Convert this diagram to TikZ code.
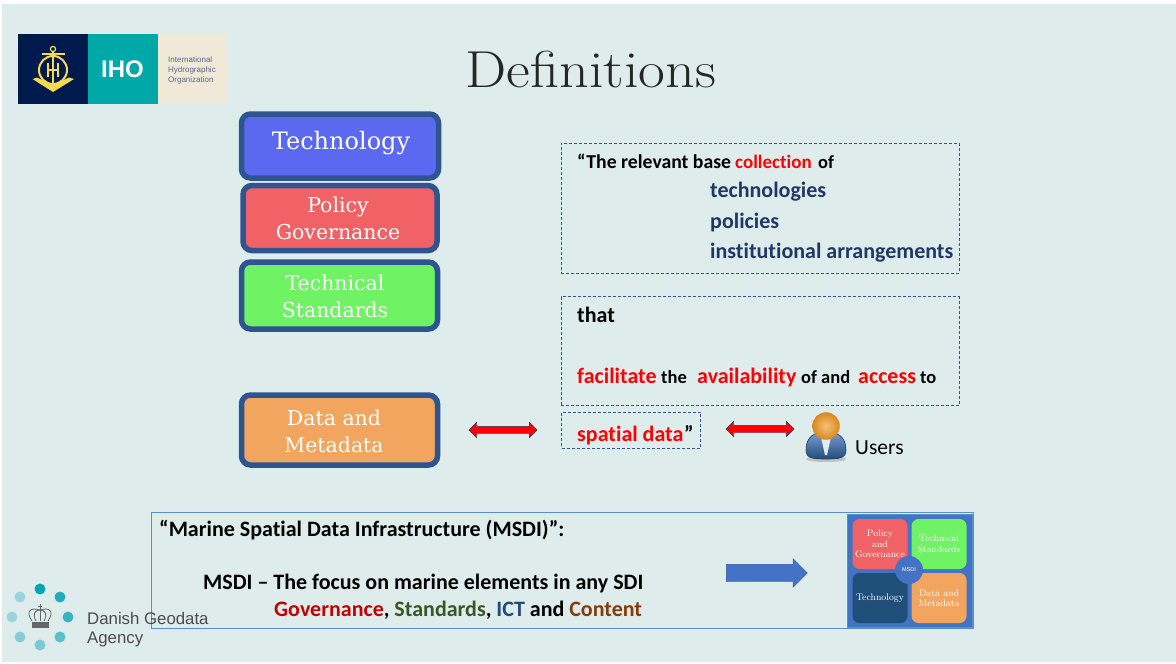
\documentclass[tikz,border=0pt]{standalone}
\usepackage{fontspec}
\setmainfont[Ligatures={TeX,NoCommon}]{Carlito}
\newfontfamily\serifa{DejaVu Serif}
\newfontfamily\serifb{Latin Modern Roman}
\newfontfamily\serift[FakeStretch=1.12]{Latin Modern Roman}
\newfontfamily\helv{Liberation Sans}
\usetikzlibrary{arrows.meta,shapes.arrows,calc}
\definecolor{bg}{HTML}{DFECEC}
\definecolor{bordb}{HTML}{2F5590}
\definecolor{tech}{HTML}{5B69F0}
\definecolor{redb}{HTML}{F06265}
\definecolor{greenb}{HTML}{70F265}
\definecolor{orangeb}{HTML}{F2A55F}
\definecolor{navyt}{HTML}{1F3864}
\definecolor{dashc}{HTML}{2F5597}
\definecolor{frame}{HTML}{5B8FC9}
\definecolor{bluef}{HTML}{4472C4}
\definecolor{dkblue}{HTML}{1F4E79}
\definecolor{redt}{HTML}{FF0000}
\definecolor{govt}{HTML}{C00000}
\definecolor{stdt}{HTML}{385723}
\definecolor{ictt}{HTML}{1F4E79}
\definecolor{cont}{HTML}{843C0C}
\definecolor{ihon}{HTML}{001A4E}
\definecolor{ihot}{HTML}{00A9A8}
\definecolor{ihoc}{HTML}{F0E9D8}
\definecolor{ihoy}{HTML}{F5D94E}
\definecolor{dotc}{HTML}{00A3B4}
\definecolor{ballin}{HTML}{F5C27A}
\definecolor{ballout}{HTML}{D98A1E}
\tikzset{
  bigbox/.style={draw=bordb,line width=5.5pt,rounded corners=9pt,inner sep=0pt},
  boxlab/.style={text=white,align=center,inner sep=0pt,font=\serifa\fontsize{20.5}{27}\selectfont},
  dashbox/.style={draw=dashc,line width=0.7pt,densely dashed,inner sep=0pt},
  txt/.style={anchor=base west,inner sep=0pt,font=\bfseries\fontsize{18.5}{22}\selectfont},
  txtl/.style={txt,font=\bfseries\fontsize{22}{26}\selectfont},
  txtb/.style={txtl,text=navyt},
  miniq/.style={rounded corners=7pt,text=white,align=center,inner sep=0pt,font=\serifb\fontsize{9.5}{10.5}\selectfont},
  dbl/.style={draw=navyt,line width=0.4pt,fill=redt,double arrow,double arrow head extend=4pt,double arrow tip angle=90,minimum height=68pt,inner sep=3.5pt},
  dotm/.style={circle,fill=dotc,inner sep=0pt,minimum size=11pt},
  frameb/.style={draw=frame,line width=0.9pt,inner sep=0pt}
}
\begin{document}
\begin{tikzpicture}[x=1pt,y=-1pt]
\useasboundingbox (0,0) rectangle (1176,664);
\fill[white] (0,0) rectangle (1176,664);
\fill[bg] (2,4) rectangle (1176,662);
% IHO logo
\fill[ihon] (18,34) rectangle (88,104);
\fill[ihot] (88,34) rectangle (157.5,104);
\fill[ihoc] (157.5,34) rectangle (227,104);
\node[anchor=center,inner sep=0pt,text=white,font=\helv\bfseries\fontsize{24}{26}\selectfont] (ihotxt) at (122.5,69) {IHO};
\node[anchor=west,inner sep=0pt,align=left,text=navyt!75,font=\helv\fontsize{8}{10}\selectfont] (ihoname) at (168,70) {International\\Hydrographic\\Organization};
\begin{scope}[ihoy]
 \draw[line width=2pt] (53,70) circle (14);
 \draw[line width=1.5pt] (53,52) -- (53,88);
 \draw[line width=2pt] (42,53.5) -- (65,53.5);
 \draw[line width=1.2pt] (53,49) circle (2.6);
 \draw[line width=1.5pt] (48,63) -- (48,77) (58,63) -- (58,77) (48,70) -- (58,70);
 \fill (32.5,79) -- (37,77.5) -- (53,85) -- (69,77.5) -- (74,79) -- (53,92) -- cycle;
\end{scope}
% title
\node[anchor=base,inner sep=0pt,text=black!85,font=\serift\fontsize{52}{56}\selectfont] (title) at (591,87) {Definitions};
% left boxes
\node[bigbox,fill=tech,minimum width=197pt,minimum height=64pt] (b1) at (340,146) {};
\node[boxlab,font=\serifa\fontsize{24}{27}\selectfont] (l1) at (341,143) {Technology};
\node[bigbox,fill=redb,minimum width=194pt,minimum height=65pt] (b2) at (340,218) {};
\node[boxlab] (l2) at (338,218) {Policy\\Governance};
\node[bigbox,fill=greenb,minimum width=196pt,minimum height=67pt] (b3) at (339.5,295.5) {};
\node[boxlab] (l3) at (335,296) {Technical\\Standards};
\node[bigbox,fill=orangeb,minimum width=196pt,minimum height=70pt] (b4) at (339.5,430) {};
\node[boxlab] (l4) at (334,431) {Data and\\Metadata};
% dashed boxes
\node[dashbox,minimum width=398pt,minimum height=130pt] (d1) at (760,208) {};
\node[dashbox,minimum width=398pt,minimum height=109pt] (d2) at (760,351) {};
\node[dashbox,minimum width=139pt,minimum height=36pt] (d3) at (631,430) {};
\node[txt,font=\bfseries\fontsize{19.7}{22}\selectfont] (t1a) at (577,168) {“The relevant base};
\node[txt,text=redt,font=\bfseries\fontsize{19}{22}\selectfont] (t1b) at (735,168) {collection};
\node[txt] (t1c) at (818,168) {of};
\node[txtb] (t2) at (710,197) {technologies};
\node[txtb] (t3) at (710,228) {policies};
\node[txtb] (t4) at (710,258) {institutional arrangements};
\node[txtl] (t5) at (577,322) {that};
\node[txtl,text=redt] (t6a) at (577,383) {facilitate};
\node[txt] (t6b) at (661,383) {the};
\node[txtl,text=redt] (t6c) at (697,383) {availability};
\node[txt] (t6d) at (801,383) {of and};
\node[txtl,text=redt] (t6e) at (858,383) {access};
\node[txt] (t6f) at (920,383) {to};
\node[txtl,text=redt] (t7a) at (577,441) {spatial data};
\node[txtl] (t7b) at (684,441) {”};
% red arrows
\node[dbl] (a1) at (503,430) {};
\node[dbl] (a2) at (760,429) {};
% user
\fill[black!25] (826,459) ellipse (20 and 3);
\draw[draw=navyt,line width=0.6pt,top color=bluef!70,bottom color=dkblue] (806,450) .. controls (806,436) and (815,432) .. (826,432) .. controls (837,432) and (846,436) .. (846,450) .. controls (846,458) and (840,459) .. (826,459) .. controls (812,459) and (806,458) .. (806,450) -- cycle;
\fill[white!85!bluef] (821,437) -- (831,437) -- (827,455) -- (825,455) -- cycle;
\shade[inner color=ballin,outer color=ballout,draw=ballout] (826,426) circle (13.5);
\node[anchor=base west,inner sep=0pt,text=black,font=\fontsize{21.5}{24}\selectfont] (users) at (855,454) {Users};
% bottom frame
\node[frameb,minimum width=822pt,minimum height=116pt] (msdi) at (562.5,570.5) {};
\node[txtl] (m1) at (159,536) {“Marine Spatial Data Infrastructure (MSDI)”:};
\node[txtl] (m2) at (203,589) {MSDI -- The focus on marine elements in any SDI};
\node[txtl] (m3) at (274,616) {\textcolor{govt}{Governance}, \textcolor{stdt}{Standards}, \textcolor{ictt}{ICT} and \textcolor{cont}{Content}};
\node[draw=bluef!80!black,line width=0.4pt,fill=bluef,single arrow,single arrow head extend=5.5pt,single arrow tip angle=90,minimum height=81pt,inner sep=8.5pt] (ba) at (762.5,573) {};
% mini diagram
\node[draw=frame,fill=bluef,line width=0.7pt,minimum width=125pt,minimum height=113pt,inner sep=0pt] (mini) at (910,570.5) {};
\node[miniq,fill=redb,minimum width=55pt,minimum height=50pt] (q1) at (880,544) {Policy\\and\\Governance};
\node[miniq,fill=greenb,minimum width=55pt,minimum height=50pt] (q2) at (939,544) {Technical\\Standards};
\node[miniq,fill=dkblue,minimum width=55pt,minimum height=50pt] (q3) at (880,598) {Technology};
\node[miniq,fill=orangeb,minimum width=55pt,minimum height=50pt] (q4) at (939,598) {Data and\\Metadata};
\node[circle,fill=bluef,minimum size=28pt,inner sep=0pt,text=white,font=\helv\fontsize{5.5}{6}\selectfont] (qc) at (909,570) {MSDI};
% Danish logo
\node[dotm,opacity=1] (dt) at (40,589) {};
\node[dotm,opacity=.85] (d45) at (60,597) {};
\node[dotm,opacity=.75] (d90) at (68,617) {};
\node[dotm,opacity=.6] (d135) at (60,637) {};
\node[dotm,opacity=.45] (d180) at (40,645) {};
\node[dotm,opacity=.4] (d225) at (20,637) {};
\node[dotm,opacity=.3] (d270) at (12,617) {};
\node[dotm,opacity=.3] (d315) at (20,597) {};
\begin{scope}[black!60,line width=0.8pt]
 \draw (32,621) .. controls (25,611) and (31,607) .. (40,610) .. controls (49,607) and (55,611) .. (48,621);
 \draw (36,621) .. controls (32,614) and (35,610) .. (40,610) .. controls (45,610) and (48,614) .. (44,621);
 \draw (40,610) -- (40,621);
 \draw (40,610) -- (40,604) (38,606) -- (42,606);
 \fill (32,622) rectangle (49,627.5);
\end{scope}
\node[anchor=base west,inner sep=0pt,text=black!70,font=\helv\fontsize{16.8}{20}\selectfont] (dk1) at (87,624) {Danish Geodata};
\node[anchor=base west,inner sep=0pt,text=black!70,font=\helv\fontsize{16.8}{20}\selectfont] (dk2) at (87,643) {Agency};
\end{tikzpicture}
\end{document}
